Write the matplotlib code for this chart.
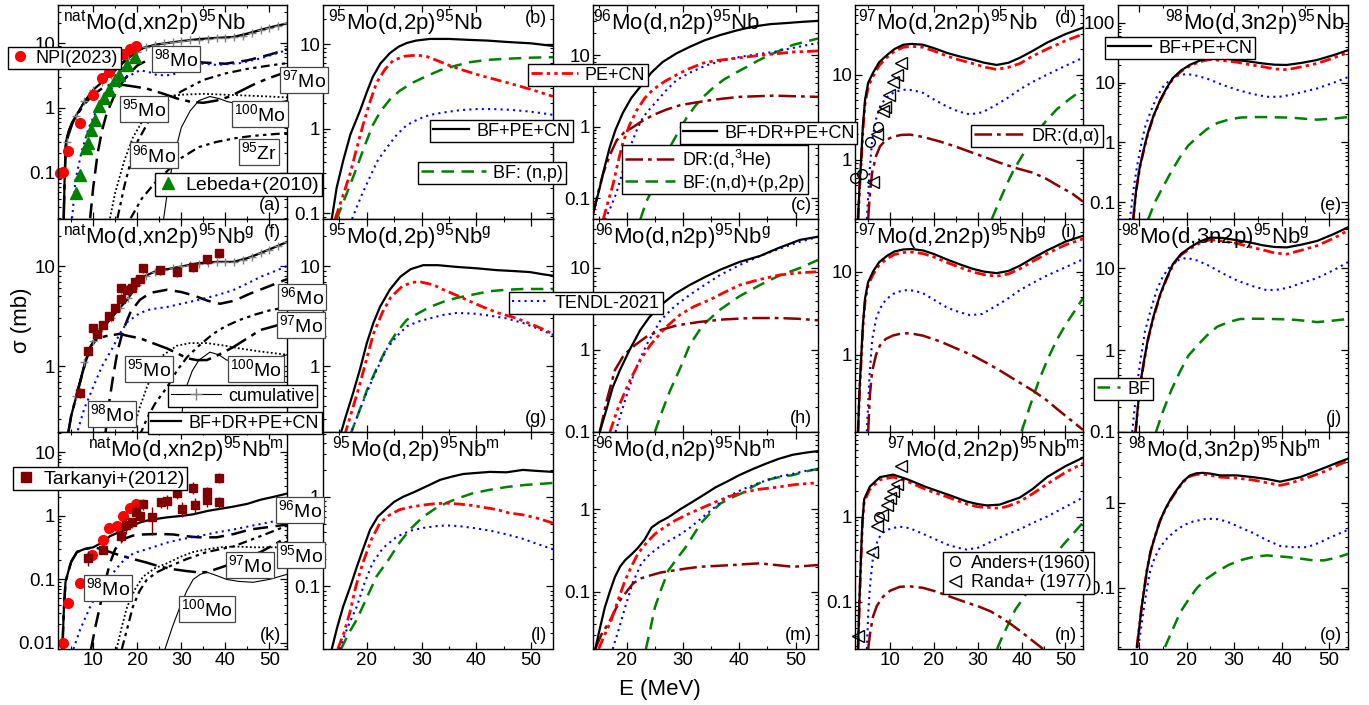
import matplotlib
matplotlib.use('Agg')
import matplotlib.pyplot as plt
from matplotlib.lines import Line2D
from matplotlib.ticker import FuncFormatter, MultipleLocator, LogLocator, NullFormatter

plt.rcParams['font.family'] = ['Liberation Sans', 'DejaVu Sans']
plt.rcParams['mathtext.fontset'] = 'custom'
plt.rcParams['mathtext.rm'] = 'Liberation Sans'
plt.rcParams['mathtext.it'] = 'Liberation Sans:italic'
plt.rcParams['mathtext.default'] = 'regular'

# ---------------- data (E in MeV, sigma in mb) ----------------
# (a) natMo(d,xn2p)95Nb
a_tot = ([3.3, 3.5, 3.8, 4.5, 5.2, 6.3, 8, 10, 12, 13.8, 16, 17.7, 19.5, 21.3, 24, 26.8, 30, 34, 38, 41.8, 45, 48, 51, 54],
         [0.02, 0.08, 0.3, 0.45, 0.6, 0.8, 1.25, 1.9, 2.5, 3.2, 4.5, 5.9, 7.3, 8.4, 9.4, 10, 10.7, 11.5, 12, 12.4, 14, 16, 18, 20])
a_cum = ([4, 6, 8, 10, 12, 14, 16, 18, 20, 22, 24, 26, 28, 30, 32, 34, 36, 38, 40, 42, 44, 46, 48, 50, 52, 54],
         [0.3, 0.75, 1.3, 1.9, 2.5, 3.2, 4.3, 5.7, 7.3, 8.6, 9.4, 9.9, 10.3, 10.7, 11.0, 11.3, 11.6, 11.8, 12.0, 12.3, 13.0, 14.2, 15.6, 17.0, 18.5, 20])
a_tendl = ([5.2, 6, 7.4, 9, 10.8, 12.5, 13.8, 16, 17.7, 20.6, 22.5, 24.5, 27, 29, 31, 32.7, 35, 38, 43.3, 48, 54],
           [0.02, 0.08, 0.22, 0.5, 0.93, 1.5, 1.9, 2.6, 3, 3.8, 3.6, 3.2, 3.2, 3.4, 4.2, 4.9, 4.8, 4.6, 4.9, 5.8, 7.8])
a_98 = ([9.3, 10, 11, 12, 13, 14.5, 16, 18, 20, 22, 25, 30, 35, 40, 45, 50, 54],
        [0.02, 0.06, 0.2, 0.45, 0.8, 1.4, 2.2, 3.3, 4.5, 5.3, 6, 5.6, 5, 4.8, 5.4, 6.6, 8])
a_97 = ([3.3, 3.5, 3.8, 4.5, 5.2, 6.3, 8, 10, 12, 14, 16, 19, 22, 26, 29, 32, 35, 38, 41, 44, 47, 50, 54],
        [0.02, 0.08, 0.3, 0.45, 0.58, 0.78, 1.15, 1.6, 2.0, 2.3, 2.3, 2.15, 2.0, 1.65, 1.4, 1.25, 1.2, 1.3, 1.5, 1.9, 2.4, 2.9, 3.6])
a_96 = ([15.5, 17, 18.5, 20, 23, 27, 30, 35, 40, 45, 50, 54],
        [0.02, 0.06, 0.15, 0.3, 0.7, 1.3, 1.8, 2.7, 3.4, 4.0, 4.5, 4.9])
a_95 = ([13.8, 15, 17, 19, 21, 23, 25, 28, 30, 35, 40, 45, 50, 54],
        [0.02, 0.05, 0.15, 0.35, 0.6, 0.95, 1.3, 1.55, 1.6, 1.65, 1.6, 1.55, 1.5, 1.45])
a_100 = ([26, 27, 28.5, 30, 32, 34, 36.5, 38.5, 40.5, 43, 46, 50, 54],
         [0.02, 0.06, 0.2, 0.5, 0.9, 1.3, 1.5, 1.4, 1.25, 1.15, 1.1, 1.15, 1.3])
a_95zr = ([18.5, 21, 24, 27, 30, 34, 38, 42, 46, 50, 54],
          [0.02, 0.04, 0.07, 0.11, 0.17, 0.25, 0.3, 0.34, 0.37, 0.39, 0.41])
a_npi = ([2.5, 3.1, 4.3, 7, 10, 12, 13.6, 15.2, 16.8, 18.4, 19.7],
         [0.1, 0.105, 0.22, 0.59, 1.6, 2.9, 3.6, 6.1, 6.8, 8.1, 9.0])
a_lebeda = ([6.1, 7, 8.4, 8.8, 9.5, 10.4, 11.3, 12.5, 13.6, 15, 15.9, 17.7, 19.5],
            [0.049, 0.093, 0.24, 0.29, 0.46, 0.65, 1.07, 1.4, 1.9, 2.7, 3.2, 4.6, 6.1])

# (f) natMo(d,xn2p)95Nb g
f_tot = ([4.2, 5, 6.5, 8, 9.3, 11, 13.8, 16, 17.7, 19.5, 21.3, 24, 26.8, 30, 34, 38, 41.8, 45, 48, 51, 54],
         [0.2, 0.32, 0.57, 1.0, 1.55, 2.1, 2.9, 3.8, 4.6, 6.0, 7.8, 8.8, 9.3, 9.9, 10.7, 11, 11, 12, 13.5, 15.3, 17.4])
f_cum = ([6, 8, 10, 12, 14, 16, 18, 20, 22, 24, 26, 28, 30, 32, 34, 36, 38, 40, 42, 44, 46, 48, 50, 52, 54],
         [0.5, 1.1, 1.8, 2.4, 3.0, 3.8, 4.8, 6.5, 8.0, 8.8, 9.2, 9.5, 9.9, 10.3, 10.6, 10.8, 10.9, 11.0, 11.1, 11.5, 12.3, 13.4, 14.6, 16, 17.4])
f_tendl = ([6.1, 8, 10, 12, 14.5, 16, 17.7, 20.6, 23, 26.8, 30, 34, 38, 41.8, 45, 48, 51, 54],
           [0.2, 0.38, 0.62, 1.0, 1.55, 2.1, 2.75, 3.4, 3.7, 3.9, 4.2, 4.6, 5.1, 5.75, 6.7, 7.8, 8.8, 10])
f_98 = ([12.7, 13.5, 14.5, 15.5, 16.8, 18.5, 20.6, 23, 26.8, 30, 32.7, 36, 38.8, 42, 45.6, 50, 54],
        [0.2, 0.4, 0.78, 1.4, 2.3, 3.5, 4.6, 5.4, 5.8, 5.5, 5.1, 4.5, 4.2, 4.5, 5.3, 6.3, 7.4])
f_97 = ([4.2, 5, 6.5, 8, 9.3, 11, 13, 16, 18, 20.6, 23.5, 26.8, 29, 31.3, 33.5, 35.8, 38.5, 41.8, 45, 48, 51, 54],
        [0.2, 0.32, 0.57, 1.0, 1.55, 1.9, 2.0, 2.1, 2.0, 1.9, 1.7, 1.5, 1.35, 1.2, 1.15, 1.15, 1.3, 1.55, 1.9, 2.3, 2.5, 2.75])
f_96 = ([20.5, 22.2, 24, 26.8, 29, 31.3, 34, 37.2, 40, 43.3, 47, 50, 54],
        [0.2, 0.3, 0.42, 0.62, 0.9, 1.23, 1.6, 2.1, 2.5, 2.9, 3.3, 3.6, 3.9])
f_95 = ([18.7, 20.5, 22.2, 25.2, 29, 32, 35.8, 40, 43.3, 48, 54],
        [0.2, 0.38, 0.62, 1.23, 1.6, 1.7, 1.7, 1.6, 1.5, 1.4, 1.3])
f_100 = ([29.5, 30.5, 31.3, 32.5, 34, 36.5, 38.5, 40.3, 43, 46, 50, 54],
         [0.2, 0.45, 0.65, 0.9, 1.15, 1.38, 1.3, 1.15, 1.1, 1.07, 1.15, 1.3])
f_tark = ([7, 8.8, 10, 10.8, 12.3, 13.6, 15, 16.3, 16.3, 17.7, 18.8, 19.5, 20.6, 21.3, 25.2, 29, 32.7, 35.9, 38.6],
          [0.54, 1.41, 2.4, 2.1, 2.6, 3.2, 3.8, 6.0, 4.7, 5.8, 6.1, 7.0, 7.4, 9.5, 9.1, 8.7, 9.8, 11.7, 13.5])
f_tark_err = [0.06, 0.15, 0.25, 0.2, 0.25, 0.3, 0.4, 0.6, 0.5, 0.6, 0.6, 0.7, 0.7, 1.0, 0.9, 0.9, 1.0, 1.2, 1.4]

# (k) natMo(d,xn2p)95Nb m
k_tot = ([3.0, 3.3, 3.7, 4.3, 5, 6.3, 8, 10, 12, 13.8, 16, 17.7, 19, 20.6, 23, 26.8, 30, 32.7, 36, 39, 41.8, 45, 48, 51, 54],
         [0.008, 0.03, 0.09, 0.13, 0.19, 0.27, 0.3, 0.32, 0.38, 0.48, 0.56, 0.61, 0.7, 0.79, 0.87, 0.95, 1.0, 1.06, 1.2, 1.3, 1.4, 1.55, 1.8, 2.0, 2.25])
k_tendl = ([5.5, 7, 9.3, 11.5, 13.8, 16, 17.7, 20, 22.2, 26.8, 30, 34, 38, 41.8, 46, 51],
           [0.008, 0.016, 0.037, 0.07, 0.11, 0.17, 0.23, 0.27, 0.3, 0.38, 0.43, 0.48, 0.55, 0.61, 0.7, 0.82])
k_98 = ([9.5, 10.5, 11.5, 12.5, 13.8, 15, 16.8, 19, 21.3, 25, 28.2, 31, 34, 38, 42, 45.6, 50, 54],
        [0.008, 0.018, 0.037, 0.08, 0.18, 0.3, 0.43, 0.49, 0.51, 0.52, 0.51, 0.48, 0.46, 0.46, 0.52, 0.61, 0.67, 0.73])
k_97 = ([3.0, 3.3, 3.7, 4.3, 5, 6.3, 8, 10, 12, 13.8, 16, 19, 22, 25, 28, 31.3, 33.5, 35.8, 38.5, 41.8, 45, 48, 51, 54],
        [0.008, 0.03, 0.09, 0.13, 0.19, 0.27, 0.3, 0.32, 0.3, 0.27, 0.24, 0.21, 0.185, 0.16, 0.145, 0.135, 0.13, 0.13, 0.15, 0.18, 0.22, 0.27, 0.35, 0.46])
k_96 = ([16.5, 18, 19, 20.5, 22.2, 24.5, 26.8, 29, 31.3, 35.8, 41.8, 48, 51, 54],
        [0.008, 0.02, 0.037, 0.065, 0.1, 0.13, 0.155, 0.18, 0.21, 0.27, 0.33, 0.48, 0.58, 0.7])
k_95 = ([15.3, 16.5, 17.7, 19.5, 21.3, 24, 26.8, 30, 32.7, 36, 38.8, 42, 46.6, 50, 54],
        [0.008, 0.018, 0.037, 0.07, 0.11, 0.15, 0.18, 0.23, 0.27, 0.3, 0.32, 0.33, 0.32, 0.32, 0.32])
k_100 = ([26.3, 28, 29.7, 31.2, 32.7, 34.3, 35.8, 38, 40.3, 43, 46.3, 50, 54],
         [0.008, 0.018, 0.037, 0.065, 0.1, 0.12, 0.13, 0.115, 0.1, 0.093, 0.09, 0.1, 0.12])
k_npi = ([3.2, 4.3, 7, 9.7, 12.2, 13.6, 15.4, 16.8, 18.4, 19.7],
         [0.01, 0.043, 0.087, 0.24, 0.41, 0.64, 0.69, 0.99, 1.31, 1.52])
k_tark = ([8.8, 12.2, 16.3, 17.5, 18.8, 19.7, 20.6, 21.3, 23.4, 25.4, 26.8, 29, 30.2, 32.7, 33.1, 35.8, 35.8, 38.6, 38.6],
          [0.22, 0.29, 0.48, 0.71, 0.79, 1.17, 0.99, 1.52, 0.95, 1.64, 1.7, 2.3, 1.3, 2.8, 1.5, 2.4, 1.8, 4.0, 1.65])
k_tark_err = [0.06, 0.04, 0.1, 0.2, 0.15, 0.3, 0.2, 0.3, 0.45, 0.3, 0.4, 0.45, 0.35, 0.6, 0.4, 0.5, 0.4, 0.7, 0.35]
tark_dE = 0.5

# (b) 95Mo(d,2p)95Nb
b_tot = ([13.6, 14.5, 15.7, 17, 18.8, 20, 21.1, 22.5, 24.2, 25.8, 27.3, 29, 31.5, 35, 38.8, 42, 45.5, 50, 54],
         [0.085, 0.2, 0.42, 0.85, 1.65, 2.7, 4.1, 5.9, 7.8, 9.3, 10.3, 11, 11.5, 11.5, 11.2, 11, 10.6, 10.2, 9.5])
b_pe = ([14.2, 15.5, 17, 18.2, 19.3, 20.5, 21.8, 23.3, 24.8, 27, 29.2, 31, 32.8, 35, 37.6, 41, 45.6, 50, 54],
        [0.085, 0.15, 0.3, 0.6, 1.1, 2.0, 3.5, 5.0, 6.4, 7.2, 7.4, 7.1, 6.4, 5.6, 4.9, 4.2, 3.5, 2.9, 2.4])
b_bf = ([14.5, 16, 18.2, 19.5, 21.1, 22.5, 24.2, 26, 28.4, 31, 33.4, 36, 38.8, 42, 45.6, 50, 54],
        [0.085, 0.15, 0.35, 0.6, 1.1, 1.6, 2.2, 2.8, 3.5, 4.2, 4.9, 5.5, 6.1, 6.5, 6.7, 6.9, 7.0])
b_tendl = ([17.3, 19, 20.6, 22, 23.7, 25.5, 27.3, 29.5, 31.5, 34, 37, 40, 43, 46, 49.3, 52, 54],
           [0.085, 0.16, 0.27, 0.42, 0.6, 0.85, 1.1, 1.3, 1.45, 1.55, 1.65, 1.7, 1.7, 1.67, 1.6, 1.52, 1.45])

# (c) 96Mo(d,n2p)95Nb
c_tot = ([14, 15.2, 16, 17, 18, 19.3, 20.8, 22.4, 24.4, 26.4, 28.8, 31.2, 33.8, 36.6, 39.5, 42.5, 45.5, 48.5, 51, 54],
         [0.06, 0.14, 0.26, 0.52, 0.9, 1.55, 2.5, 3.6, 5.7, 8, 10.5, 13, 16, 19, 22, 25, 27, 28, 29, 30])
c_pe = ([15.8, 16.7, 17.6, 18.5, 19.3, 20.5, 21.8, 23.2, 24.7, 26.8, 28.9, 31.2, 33.6, 36, 38.4, 41.3, 44.2, 47, 49.5, 52, 54],
        [0.05, 0.09, 0.16, 0.33, 0.59, 1.05, 1.7, 2.5, 3.3, 4.3, 5.3, 6.5, 7.7, 8.4, 8.8, 9.4, 10, 10.5, 11, 11.2, 11.4])
c_tendl = ([16.1, 17, 18.2, 19.5, 20.6, 21.8, 22.9, 24.2, 25.4, 27, 28.9, 31.5, 34.2, 37, 40.1, 43, 46, 49, 51.5, 54],
           [0.05, 0.07, 0.12, 0.27, 0.52, 0.9, 1.35, 1.8, 2.3, 3.2, 4.5, 5.8, 7.2, 8.3, 9.4, 10.2, 11, 12.3, 13.5, 14.7])
c_dr = ([14, 14.8, 15.8, 17, 18.2, 19.5, 21.1, 22.8, 24.7, 27, 29.5, 32, 34.3, 37, 40.1, 43, 46, 50, 54],
        [0.06, 0.11, 0.22, 0.4, 0.64, 0.82, 0.98, 1.2, 1.45, 1.72, 1.99, 2.15, 2.3, 2.45, 2.6, 2.65, 2.7, 2.65, 2.6])
c_bf = ([22.4, 23.5, 24.7, 26.2, 27.7, 29.2, 30.7, 32.2, 33.6, 35.4, 37.2, 39.3, 41.3, 43.4, 45.4, 47.5, 49.5, 52, 54],
        [0.05, 0.09, 0.14, 0.28, 0.52, 0.85, 1.35, 1.95, 2.6, 3.5, 4.5, 5.6, 6.8, 8.4, 10, 11.8, 13.8, 15.5, 17])

# (d) 97Mo(d,2n2p)95Nb
d_e = [2.7, 3.0, 3.4, 3.8, 4.3, 5, 6.1, 7.5, 9.3, 11, 13, 15, 17.5, 20, 23, 26, 28.9, 31.5, 34.3, 37, 39.6, 42.5, 45.8, 50, 54]
d_tot = [0.2, 0.45, 1.0, 2.5, 5.1, 8, 10.5, 14, 17, 20, 22.5, 23, 22.5, 20.5, 18, 16.3, 15, 13.8, 13, 13.8, 15.8, 19, 23.8, 30, 35.7]
d_pe = [0.2, 0.4, 0.9, 2.2, 4.5, 7.2, 9.5, 12.8, 16, 18.8, 21, 21.5, 21, 19, 16.5, 14.8, 13.5, 12.3, 11.5, 12.2, 13.5, 16.5, 20, 25, 30]
d_tendl = ([4.7, 5.3, 5.9, 6.8, 7.7, 9, 10.7, 12.2, 13.8, 15.5, 17.5, 20, 23, 25.5, 28.2, 31, 33.5, 36.5, 39.6, 42.5, 45.8, 50, 54],
           [0.2, 0.7, 1.7, 3.0, 4.2, 5.3, 6.1, 6.5, 6.7, 6.5, 6.1, 5.1, 4.2, 3.7, 3.4, 3.6, 4.2, 5.2, 6.7, 8.2, 10, 12.7, 15.8])
d_dr = ([5, 5.4, 5.9, 6.8, 7.7, 9, 10.7, 12.5, 14.5, 17.5, 21.4, 25, 28.9, 32, 35, 38.5, 42.6, 45.5, 48.7, 51.5, 54],
        [0.2, 0.4, 0.7, 1.1, 1.43, 1.7, 1.86, 1.95, 1.97, 1.85, 1.63, 1.42, 1.2, 1.05, 0.92, 0.8, 0.7, 0.6, 0.48, 0.4, 0.32])
d_bf = ([33.2, 35, 36.6, 38, 39.6, 41.5, 43.5, 45.7, 48, 51, 54],
        [0.2, 0.33, 0.51, 0.72, 1.0, 1.45, 2.1, 2.9, 3.9, 5.2, 6.7])
d_anders = ([2.0, 3.6, 5.4, 7.2], [0.61, 0.67, 1.6, 2.4])
d_randa = ([6.1, 7, 8.4, 8.8, 9.8, 10.7, 11.6, 12.6], [0.55, 2.0, 3.7, 4.2, 5.8, 8.3, 10, 13.8])

# (e) 98Mo(d,3n2p)95Nb
e_e = [8.7, 9.3, 10.1, 11, 11.8, 13, 14.4, 15.7, 17.1, 18.8, 20.7, 22.8, 24.9, 27.5, 30.6, 33.3, 36, 38.5, 41.1, 44.3, 47.5, 51, 54]
e_tot = [0.05, 0.15, 0.39, 0.8, 1.43, 2.8, 5.1, 8, 12, 16, 20, 23.5, 25.9, 25.5, 24, 22.5, 21, 20, 19.8, 21.5, 24, 29, 35]
e_pe = [0.05, 0.15, 0.38, 0.78, 1.4, 2.75, 5, 7.8, 11.7, 15.5, 19.3, 22.5, 24.5, 23.5, 22, 20, 18.5, 17, 16.5, 18.5, 21, 26, 32]
e_tendl = ([8, 8.7, 9.5, 10.3, 11.2, 12.4, 13.7, 15, 16.5, 18.2, 20, 22.3, 24.9, 27.5, 30.6, 33.7, 36.9, 39.5, 41.8, 44.5, 47.5, 51, 54],
           [0.05, 0.15, 0.39, 0.85, 1.8, 3.3, 5.8, 8.5, 11.2, 13.2, 14, 13, 11.2, 9.2, 7.6, 6.5, 5.8, 5.8, 6.2, 7, 8, 10, 12.4])
e_bf = ([11.8, 13.3, 15, 16.8, 18.6, 20.3, 22.1, 24.2, 26.4, 28.8, 31.2, 34, 36.9, 39.5, 41.8, 44.5, 47.5, 51, 54],
        [0.05, 0.1, 0.18, 0.33, 0.57, 0.88, 1.2, 1.65, 2.1, 2.4, 2.6, 2.65, 2.65, 2.62, 2.6, 2.5, 2.4, 2.5, 2.65])

# (g) 95Mo(d,2p)95Nb g
g_tot = ([15.1, 16.2, 17.5, 18.8, 20, 21.2, 22.4, 24.2, 26.1, 28, 30.3, 33, 36.4, 40, 43.7, 47, 49.8, 52, 54],
         [0.2, 0.32, 0.54, 0.95, 1.7, 2.7, 3.9, 5.8, 7.8, 9.3, 10.2, 10.2, 9.8, 9.5, 9.1, 8.9, 8.7, 8.3, 8.0])
g_pe = ([15.9, 17.3, 18.8, 20, 21.2, 22.8, 24.4, 26.5, 28.4, 30, 32.1, 34, 36.4, 39, 41.2, 44, 47.4, 51, 54],
        [0.2, 0.36, 0.68, 1.2, 2.1, 3.4, 4.9, 6.3, 6.9, 6.9, 6.5, 5.8, 5.1, 4.4, 3.9, 3.4, 3.0, 2.5, 2.1])
g_bf = ([16.9, 18.4, 20, 21.8, 23.7, 25.5, 27.3, 29.5, 31.5, 34, 36.4, 39.5, 42.4, 45.5, 48.5, 51, 54],
        [0.2, 0.33, 0.57, 0.95, 1.55, 2.2, 2.9, 3.4, 3.9, 4.4, 4.8, 5.2, 5.6, 5.8, 5.9, 5.9, 5.9])
g_tendl = ([16.9, 18.4, 20, 21.8, 23.7, 25.5, 27.3, 29.5, 31.5, 34, 36.4, 39.5, 42.4, 45.5, 48.5, 51, 54],
           [0.2, 0.33, 0.55, 0.92, 1.5, 2.0, 2.5, 2.8, 3.0, 3.25, 3.4, 3.35, 3.2, 3.0, 2.7, 2.4, 2.05])

# (h) 96Mo(d,n2p)95Nb g
h_tot = ([15.2, 16.5, 17.5, 18.8, 20.5, 22.4, 24, 26, 28.5, 31.2, 34, 36.6, 40, 43.7, 47, 50.8, 54],
         [0.1, 0.2, 0.35, 0.57, 1.0, 1.75, 2.5, 3.5, 4.8, 6.2, 7.8, 9.5, 11.8, 14, 17.5, 22, 24])
h_pe = ([17, 18.5, 20.6, 22.4, 24.2, 26.8, 29.5, 32, 34.8, 37.5, 40.1, 43.5, 47.2, 50.5, 54],
        [0.1, 0.2, 0.43, 0.75, 1.15, 1.85, 2.7, 3.4, 4.1, 5.1, 6.2, 7.2, 8.2, 8.7, 9.0])
h_tendl = ([18, 19.5, 21.5, 23.5, 26, 28.5, 31.2, 34, 36.6, 40, 43.7, 47, 50.5, 54],
           [0.1, 0.22, 0.57, 1.15, 2.3, 3.4, 4.7, 6.3, 8.2, 10.8, 14, 17, 20.5, 24])
h_dr = ([15.2, 16.5, 17.9, 19.5, 21.5, 23.5, 26, 29, 33, 37, 42, 47, 50.5, 54],
        [0.1, 0.25, 0.57, 0.87, 1.15, 1.45, 1.75, 2.0, 2.2, 2.35, 2.45, 2.45, 2.4, 2.3])
h_bf = ([25, 26.3, 27.7, 29.5, 31.2, 33.5, 36.6, 40, 43.7, 47, 50.8, 54],
        [0.1, 0.18, 0.32, 0.6, 1.15, 2.0, 3.1, 4.5, 6.2, 8.0, 10, 12.5])

# (i) 97Mo(d,2n2p)95Nb g
i_e = [2.7, 3.0, 3.4, 3.8, 4.3, 5, 6.1, 7.5, 9.3, 11, 13, 15, 17.5, 20, 23, 26, 28.9, 31.5, 34.3, 37, 39.6, 42.5, 45.8, 50, 54]
i_tot = [0.12, 0.35, 0.9, 2.3, 4.8, 7.5, 10, 13, 15.5, 17.5, 18.5, 18.7, 18, 16.3, 14, 12.2, 10.8, 10, 9.6, 10.2, 11.8, 14.5, 18, 23, 27]
i_pe = [0.12, 0.32, 0.82, 2.1, 4.4, 6.9, 9.2, 12, 14.3, 16.1, 17, 17.2, 16.5, 15, 12.9, 11.2, 9.9, 9.2, 8.8, 9.4, 10.8, 13.3, 16.5, 21, 24.8]
i_tendl = ([4.7, 5.3, 5.9, 6.8, 7.7, 9, 10.7, 12.2, 13.8, 15.5, 17.5, 20, 23, 25.5, 28.2, 31, 33.5, 36.5, 39.6, 42.5, 45.8, 50, 54],
           [0.12, 0.55, 1.5, 2.7, 3.6, 4.6, 5.4, 5.8, 6.0, 5.9, 5.5, 4.6, 3.7, 3.3, 3.0, 3.1, 3.7, 4.6, 6.0, 7.3, 9.0, 11.3, 14.1])
i_dr = ([5, 5.4, 5.9, 6.8, 7.7, 9, 10.7, 12.5, 14.5, 17.5, 21.4, 25, 28.9, 32, 35, 38.5, 42.6, 45.5, 48.7, 51.5, 54],
        [0.12, 0.33, 0.63, 1.0, 1.3, 1.55, 1.71, 1.8, 1.82, 1.7, 1.45, 1.2, 0.98, 0.8, 0.65, 0.5, 0.37, 0.29, 0.21, 0.16, 0.125])
i_bf = ([40, 42, 44, 46, 48, 50, 52, 54], [0.12, 0.25, 0.5, 0.9, 1.5, 2.3, 3.3, 4.8])

# (j) 98Mo(d,3n2p)95Nb g
j_e = [9.2, 10.1, 11, 11.8, 13, 14.4, 15.7, 17.1, 18.8, 20.7, 22.8, 24.9, 27.5, 30.6, 33.3, 36, 38.5, 41.1, 44.3, 47.5, 51, 54]
j_tot = [0.1, 0.36, 0.75, 1.35, 2.6, 4.8, 7.5, 11.3, 15, 18, 21.3, 23.7, 23.5, 22, 20.7, 19.1, 18.2, 18, 19.5, 21.6, 26.2, 31.7]
j_pe = [0.1, 0.35, 0.73, 1.32, 2.55, 4.7, 7.3, 11, 14.6, 17.4, 20.4, 22.3, 21.5, 20.1, 18.3, 16.8, 15.4, 14.9, 16.7, 18.9, 23.3, 28.9]
j_tendl = ([8.5, 9.5, 10.3, 11.2, 12.4, 13.7, 15, 16.5, 18.2, 20, 22.3, 24.9, 27.5, 30.6, 33.7, 36.9, 39.5, 41.8, 44.5, 47.5, 51, 54],
           [0.1, 0.37, 0.8, 1.7, 3.1, 5.5, 8.0, 10.6, 12.6, 13.4, 12.4, 10.6, 8.7, 7.1, 6.1, 5.4, 5.5, 5.9, 6.7, 7.6, 9.5, 11.9])
j_bf = ([13.5, 15, 16.8, 18.6, 20.3, 22.1, 24.2, 26.4, 28.8, 31.2, 34, 36.9, 39.5, 41.8, 44.5, 47.5, 51, 54],
        [0.1, 0.18, 0.33, 0.55, 0.85, 1.12, 1.5, 1.93, 2.2, 2.4, 2.42, 2.41, 2.39, 2.37, 2.3, 2.2, 2.3, 2.4])

# (l) 95Mo(d,2p)95Nb m
l_tot = ([13.6, 14.6, 15.7, 17, 18.2, 19.4, 20.6, 22, 23.7, 25, 26.6, 28.5, 30.3, 33.4, 35.5, 37.6, 40, 42.5, 45.5, 48.5, 51, 54],
         [0.02, 0.035, 0.06, 0.1, 0.167, 0.27, 0.43, 0.6, 0.75, 0.88, 1.0, 1.12, 1.26, 1.55, 1.68, 1.8, 1.85, 1.9, 1.88, 2.0, 1.95, 1.9])
l_pe = ([14.7, 15.8, 16.9, 18, 19.3, 20.8, 22.4, 24, 26, 28, 30.3, 32.5, 34.6, 37, 39.4, 41.5, 43.8, 46, 48.5, 51, 54],
        [0.02, 0.03, 0.051, 0.1, 0.185, 0.33, 0.51, 0.62, 0.72, 0.77, 0.81, 0.84, 0.85, 0.83, 0.8, 0.76, 0.72, 0.66, 0.63, 0.58, 0.51])
l_tendl = ([15, 16.5, 18.2, 19.6, 21.1, 23, 25.5, 28, 30.3, 32.5, 34.6, 37, 39.4, 42.5, 45.6, 48.5, 51, 54],
           [0.02, 0.035, 0.06, 0.11, 0.185, 0.27, 0.36, 0.42, 0.45, 0.47, 0.48, 0.47, 0.45, 0.42, 0.38, 0.34, 0.3, 0.26])
l_bf = ([15.3, 16.7, 18.2, 20, 21.8, 24, 26, 28, 30.3, 32.5, 34.6, 37, 39.4, 42.5, 45.6, 49, 54],
        [0.02, 0.03, 0.043, 0.075, 0.13, 0.2, 0.31, 0.44, 0.6, 0.74, 0.86, 0.98, 1.1, 1.2, 1.29, 1.36, 1.43])

# (m) 96Mo(d,n2p)95Nb m
m_tot = ([14.4, 15.2, 16.1, 17, 17.9, 18.8, 19.7, 21, 22, 23.2, 24.4, 25.8, 27.4, 29.5, 31.6, 33.7, 35.8, 38, 40, 42.5, 44.8, 47, 49.5, 52, 54],
         [0.02, 0.035, 0.064, 0.1, 0.15, 0.2, 0.24, 0.29, 0.34, 0.43, 0.6, 0.7, 0.8, 1.0, 1.22, 1.5, 1.85, 2.2, 2.6, 3.1, 3.6, 4.1, 4.6, 4.9, 5.1])
m_pe = ([15, 16.1, 17.2, 18.5, 19.7, 20.8, 22, 23.5, 25, 26.8, 28.6, 30.7, 32.8, 34.6, 36.4, 38.5, 40.6, 43.5, 46.6, 50, 54],
        [0.02, 0.03, 0.044, 0.08, 0.136, 0.2, 0.29, 0.39, 0.5, 0.61, 0.73, 0.86, 1.0, 1.13, 1.28, 1.45, 1.6, 1.75, 1.85, 2.0, 2.1])
m_tendl = ([17.5, 18.6, 19.7, 21.1, 22.6, 24, 25.6, 27.4, 29.2, 31, 32.8, 35.2, 37.7, 40.6, 43.6, 46.5, 49.5, 52, 54],
           [0.02, 0.035, 0.064, 0.13, 0.22, 0.28, 0.34, 0.41, 0.48, 0.58, 0.73, 1.0, 1.4, 1.75, 2.1, 2.45, 2.7, 2.95, 3.1])
m_dr = ([14.4, 15.5, 17, 18.8, 20, 21.1, 22.6, 24.2, 26, 28.3, 30.5, 33, 36, 38.9, 41, 43.6, 46.5, 49.5, 52, 54],
        [0.02, 0.03, 0.044, 0.078, 0.1, 0.125, 0.145, 0.157, 0.17, 0.18, 0.19, 0.2, 0.205, 0.21, 0.215, 0.22, 0.21, 0.2, 0.205, 0.21])
m_bf = ([23.4, 24.2, 25, 26.2, 27.4, 28.9, 30.4, 31.8, 33.2, 35, 36.7, 38.6, 40.5, 42.5, 44.6, 47, 49.5, 52, 54],
        [0.02, 0.035, 0.064, 0.11, 0.18, 0.25, 0.34, 0.48, 0.68, 0.92, 1.18, 1.38, 1.57, 1.9, 2.25, 2.45, 2.6, 2.9, 3.1])

# (n) 97Mo(d,2n2p)95Nb m
n_e = [2.7, 3.0, 3.4, 3.7, 4.1, 5.4, 7.7, 10.7, 13.8, 18.4, 23.7, 27.5, 30, 32.1, 35, 37, 39.6, 42.5, 45.8, 50, 54]
n_tot = [0.028, 0.1, 0.38, 0.9, 1.6, 2.25, 2.9, 3.1, 2.75, 2.2, 1.77, 1.5, 1.4, 1.35, 1.38, 1.5, 1.67, 2.1, 2.9, 3.9, 4.9]
n_pe = [0.028, 0.09, 0.35, 0.85, 1.5, 2.1, 2.7, 2.9, 2.6, 2.05, 1.65, 1.4, 1.3, 1.28, 1.25, 1.33, 1.5, 1.85, 2.4, 3.3, 4.2]
n_tendl = ([4.7, 5.0, 5.4, 6.0, 6.5, 7.3, 8.4, 10, 12.2, 14.5, 16.8, 20, 23, 25.5, 27.5, 30, 32.8, 36, 39.6, 42.5, 45.8, 50, 54],
           [0.028, 0.07, 0.15, 0.3, 0.41, 0.55, 0.65, 0.72, 0.76, 0.73, 0.65, 0.55, 0.47, 0.43, 0.41, 0.43, 0.5, 0.6, 0.71, 0.84, 1.0, 1.3, 1.67])
n_dr = ([5, 5.5, 6.1, 7, 8.4, 10, 12.2, 14.5, 17.5, 20.5, 23.7, 27, 30.5, 33, 35, 37.5, 40.3, 42.5, 44.9],
        [0.028, 0.045, 0.067, 0.09, 0.115, 0.135, 0.15, 0.152, 0.146, 0.132, 0.115, 0.1, 0.087, 0.077, 0.067, 0.055, 0.043, 0.035, 0.028])
n_bf = ([34.4, 35.5, 36.6, 38.5, 41.2, 43.8, 46.5, 50, 54],
        [0.028, 0.038, 0.05, 0.08, 0.127, 0.2, 0.31, 0.5, 0.85])
n_anders = ([7.5], [1.0])
n_randa = ([2.7, 5.9, 7, 8.2, 9.3, 10, 10.7, 11.6, 12.6], [0.04, 0.38, 0.78, 1.05, 1.38, 1.67, 1.97, 2.4, 3.9])

# (o) 98Mo(d,3n2p)95Nb m
o_e = [9.5, 10.5, 11.6, 12.4, 13.3, 14.3, 15.4, 16.6, 17.9, 19.3, 20.7, 22, 23.4, 25, 27, 30.5, 34, 36.9, 39.7, 41.8, 43.9, 46.8, 49.6, 52, 54]
o_tot = [0.02, 0.06, 0.16, 0.27, 0.4, 0.6, 0.83, 1.1, 1.42, 1.8, 2.1, 2.22, 2.25, 2.2, 2.1, 2.1, 2.0, 1.9, 1.77, 1.88, 2.0, 2.3, 2.65, 3.0, 3.3]
o_pe = [0.02, 0.06, 0.16, 0.27, 0.4, 0.6, 0.82, 1.08, 1.4, 1.77, 2.05, 2.15, 2.17, 2.1, 2.0, 1.95, 1.85, 1.72, 1.6, 1.7, 1.85, 2.1, 2.4, 2.8, 3.1]
o_tendl = ([9.8, 10.8, 11.5, 12.3, 13.3, 14.4, 16, 17.9, 19.5, 21.3, 24.3, 26.5, 28.5, 31, 34, 37, 39.7, 42.5, 45.4, 48, 50.2, 52, 54],
           [0.02, 0.05, 0.09, 0.16, 0.23, 0.3, 0.39, 0.48, 0.55, 0.6, 0.65, 0.64, 0.6, 0.52, 0.44, 0.36, 0.31, 0.3, 0.3, 0.34, 0.39, 0.43, 0.48])
o_bf = ([15.4, 17, 18.6, 20.4, 22.2, 24.2, 26.4, 28.8, 31.2, 34, 36.9, 39, 41.1, 44, 46.6, 49, 51.5, 54],
        [0.02, 0.032, 0.051, 0.073, 0.1, 0.128, 0.155, 0.185, 0.21, 0.23, 0.24, 0.235, 0.23, 0.22, 0.21, 0.21, 0.225, 0.25])

# ---------------- layout ----------------
W, H = 1369, 705
fig = plt.figure(figsize=(W / 100, H / 100), dpi=100)

cols = [(58, 287), (323, 553), (593, 818), (855, 1083), (1118, 1348)]
rows = [(5, 219), (219, 432), (432, 649)]
xlims = [(2, 54), (12, 54), (14, 54), (2, 54), (5.5, 54)]
ylims = [[(0.0195, 38.5), (0.085, 29), (0.051, 50), (0.2, 66), (0.052, 200)],
         [(0.22, 29.5), (0.22, 29.5), (0.1, 39.5), (0.118, 43), (0.1, 40)],
         [(0.008, 21), (0.02, 5.3), (0.02, 8.7), (0.028, 9.8), (0.019, 6.8)]]

TOT = dict(color='k', lw=1.6, ls='-')
PE = dict(color='red', lw=2.0, ls=(0, (4, 1.5, 1.2, 1.5, 1.2, 1.5)))
TENDL = dict(color='blue', lw=1.5, ls=(0, (1, 2)))
BF = dict(color='green', lw=1.8, ls=(0, (5, 3)))
DR = dict(color='#8b0000', lw=1.8, ls=(0, (7, 2, 1.5, 2)))
I98 = dict(color='k', lw=1.8, ls=(0, (6, 3)))
I97 = dict(color='k', lw=1.8, ls=(0, (9, 2.5, 2, 2.5)))
I96 = dict(color='k', lw=1.6, ls=(0, (4, 2, 1.5, 2, 1.5, 2)))
I95 = dict(color='k', lw=1.3, ls=(0, (1, 1.3)))
I100 = dict(color='k', lw=0.8, ls='-')
CUM = dict(color='k', lw=0.8, marker='+', ms=6, mec='gray', mew=1.0)

axes = {}
letters = 'abcdefghijklmno'
for r in range(3):
    for c in range(5):
        x0, x1 = cols[c]
        y0, y1 = rows[r]
        ax = fig.add_axes([x0 / W, 1 - y1 / H, (x1 - x0) / W, (y1 - y0) / H])
        ax.set_yscale('log')
        ax.set_xlim(*xlims[c])
        ax.set_ylim(*ylims[r][c])
        ax.xaxis.set_major_locator(MultipleLocator(10))
        ax.xaxis.set_minor_locator(MultipleLocator(5))
        ax.yaxis.set_major_locator(LogLocator(base=10))
        ax.yaxis.set_minor_locator(LogLocator(base=10, subs=range(2, 10)))
        ax.yaxis.set_major_formatter(FuncFormatter(lambda v, p: '%g' % v))
        ax.yaxis.set_minor_formatter(NullFormatter())
        ax.tick_params(which='both', direction='in', top=True, right=True, labelsize=13.5, pad=2)
        ax.tick_params(which='major', length=5, width=0.9)
        ax.tick_params(which='minor', length=2.5, width=0.8)
        if r < 2:
            ax.tick_params(labelbottom=False)
        for s in ax.spines.values():
            s.set_linewidth(1.0)
        axes[letters[r * 5 + c]] = ax


def model(ax, tot=None, pe=None, tendl=None, bf=None, dr=None):
    for cur, st in ((bf, BF), (tendl, TENDL), (dr, DR), (pe, PE), (tot, TOT)):
        if cur is not None:
            ax.plot(cur[0], cur[1], **st)


def title(ax, s, x=0.02, ha='left'):
    ax.text(x, 0.99, s, transform=ax.transAxes, fontsize=16, ha=ha, va='top')


def letter(ax, s, top=False):
    if top:
        ax.text(0.975, 0.975, s, transform=ax.transAxes, fontsize=13, ha='right', va='top')
    else:
        ax.text(0.975, 0.025, s, transform=ax.transAxes, fontsize=13, ha='right', va='bottom')


def box(x, y, s):
    fig.text(x / W, 1 - y / H, s, fontsize=14, ha='left', va='top',
             bbox=dict(boxstyle='square,pad=0.12', fc='white', ec='#444444', lw=0.9))


def leg(handles, labels, x, y, hl=2.4, fs=13):
    lg = fig.legend(handles, labels, loc='upper left', bbox_to_anchor=(x / W, 1 - y / H),
                    frameon=True, fancybox=False, edgecolor='black', framealpha=1,
                    fontsize=fs, borderpad=0.15, handlelength=hl, handletextpad=0.4,
                    borderaxespad=0, labelspacing=0.15)
    lg.get_frame().set_linewidth(1.0)
    return lg


# (a)
ax = axes['a']
ax.plot(*a_95zr, **I96)
ax.plot(*a_100, **I100)
ax.plot(*a_95, **I95)
ax.plot(*a_96, **I96)
ax.plot(*a_97, **I97)
ax.plot(*a_98, **I98)
ax.plot(*a_tendl, **TENDL)
ax.plot(*a_tot, **TOT)
ax.plot(*a_cum, **CUM)
ax.plot(*a_lebeda, ls='none', marker='^', color='green', ms=8)
ax.plot(*a_npi, ls='none', marker='o', color='red', ms=7, clip_on=False)
title(ax, '$^{nat}$Mo(d,xn2p)$^{95}$Nb')
letter(ax, '(a)')

# (f)
ax = axes['f']
ax.plot(*f_100, **I100)
ax.plot(*f_95, **I95)
ax.plot(*f_96, **I96)
ax.plot(*f_97, **I97)
ax.plot(*f_98, **I98)
ax.plot(*f_tendl, **TENDL)
ax.plot(*f_tot, **TOT)
ax.plot(*f_cum, **CUM)
ax.errorbar(f_tark[0], f_tark[1], yerr=f_tark_err, xerr=tark_dE, fmt='s', color='#800000',
            ms=6, elinewidth=1, capsize=0)
title(ax, '$^{nat}$Mo(d,xn2p)$^{95}$Nb$^{g}$')
letter(ax, '(f)', top=True)

# (k)
ax = axes['k']
ax.plot(*k_100, **I100)
ax.plot(*k_95, **I95)
ax.plot(*k_96, **I96)
ax.plot(*k_97, **I97)
ax.plot(*k_98, **I98)
ax.plot(*k_tendl, **TENDL)
ax.plot(*k_tot, **TOT)
ax.plot(*k_npi, ls='none', marker='o', color='red', ms=7, clip_on=False)
ax.errorbar(k_tark[0], k_tark[1], yerr=k_tark_err, xerr=tark_dE, fmt='s', color='#800000',
            ms=6, elinewidth=1, capsize=0)
title(ax, '$^{nat}$Mo(d,xn2p)$^{95}$Nb$^{m}$', x=0.985, ha='right')
letter(ax, '(k)')

# columns 1..4
model(axes['b'], b_tot, b_pe, b_tendl, b_bf)
title(axes['b'], '$^{95}$Mo(d,2p)$^{95}$Nb')
letter(axes['b'], '(b)', top=True)
model(axes['c'], c_tot, c_pe, c_tendl, c_bf, c_dr)
title(axes['c'], '$^{96}$Mo(d,n2p)$^{95}$Nb', x=0.0)
letter(axes['c'], '(c)')
model(axes['d'], (d_e, d_tot), (d_e, d_pe), d_tendl, d_bf, d_dr)
axes['d'].plot(*d_anders, ls='none', marker='o', mfc='none', mec='k', ms=7, clip_on=False)
axes['d'].plot(*d_randa, ls='none', marker='<', mfc='none', mec='k', ms=8)
title(axes['d'], '$^{97}$Mo(d,2n2p)$^{95}$Nb', x=0.015)
letter(axes['d'], '(d)', top=True)
model(axes['e'], (e_e, e_tot), (e_e, e_pe), e_tendl, e_bf)
title(axes['e'], '$^{98}$Mo(d,3n2p)$^{95}$Nb', x=0.985, ha='right')
letter(axes['e'], '(e)')

model(axes['g'], g_tot, g_pe, g_tendl, g_bf)
title(axes['g'], '$^{95}$Mo(d,2p)$^{95}$Nb$^{g}$')
letter(axes['g'], '(g)')
model(axes['h'], h_tot, h_pe, h_tendl, h_bf, h_dr)
title(axes['h'], '$^{96}$Mo(d,n2p)$^{95}$Nb$^{g}$', x=0.01)
letter(axes['h'], '(h)')
model(axes['i'], (i_e, i_tot), (i_e, i_pe), i_tendl, i_bf, i_dr)
title(axes['i'], '$^{97}$Mo(d,2n2p)$^{95}$Nb$^{g}$', x=0.015)
letter(axes['i'], '(i)', top=True)
model(axes['j'], (j_e, j_tot), (j_e, j_pe), j_tendl, j_bf)
title(axes['j'], '$^{98}$Mo(d,3n2p)$^{95}$Nb$^{g}$', x=0.015)
letter(axes['j'], '(j)')

model(axes['l'], l_tot, l_pe, l_tendl, l_bf)
title(axes['l'], '$^{95}$Mo(d,2p)$^{95}$Nb$^{m}$', x=0.04)
letter(axes['l'], '(l)')
model(axes['m'], m_tot, m_pe, m_tendl, m_bf, m_dr)
title(axes['m'], '$^{96}$Mo(d,n2p)$^{95}$Nb$^{m}$', x=0.01)
letter(axes['m'], '(m)')
model(axes['n'], (n_e, n_tot), (n_e, n_pe), n_tendl, n_bf, n_dr)
axes['n'].plot(*n_anders, ls='none', marker='o', mfc='none', mec='k', ms=7)
axes['n'].plot(*n_randa, ls='none', marker='<', mfc='none', mec='k', ms=8, clip_on=False)
title(axes['n'], '$^{97}$Mo(d,2n2p)$^{95}$Nb$^{m}$', x=0.14)
letter(axes['n'], '(n)')
model(axes['o'], (o_e, o_tot), (o_e, o_pe), o_tendl, o_bf)
title(axes['o'], '$^{98}$Mo(d,3n2p)$^{95}$Nb$^{m}$', x=0.045)
letter(axes['o'], '(o)')

# isotope labels
for x, y, s in [(154, 48, '$^{98}$Mo'), (282, 69, '$^{97}$Mo'), (122, 98, '$^{95}$Mo'),
                (234, 103, '$^{100}$Mo'), (132, 144, '$^{96}$Mo'), (241, 141, '$^{95}$Zr'),
                (280, 286, '$^{96}$Mo'), (279, 314, '$^{97}$Mo'), (127, 358, '$^{95}$Mo'),
                (230, 358, '$^{100}$Mo'), (90, 403, '$^{98}$Mo'),
                (278, 499, '$^{96}$Mo'), (279, 544, '$^{95}$Mo'), (228, 554, '$^{97}$Mo'),
                (86, 577, '$^{98}$Mo'), (181, 598, '$^{100}$Mo')]:
    box(x, y, s)

# legends
hd_tot = Line2D([], [], **TOT)
hd_pe = Line2D([], [], **PE)
hd_tendl = Line2D([], [], **TENDL)
hd_bf = Line2D([], [], **BF)
hd_dr = Line2D([], [], **DR)
leg([Line2D([], [], ls='none', marker='o', color='red', ms=7)], ['NPI(2023)'], 8, 47, hl=1.0)
leg([Line2D([], [], ls='none', marker='^', color='green', ms=8)], ['Lebeda+(2010)'], 155, 173, hl=1.0, fs=14)
leg([Line2D([], [], color='k', lw=0.8, marker='+', ms=8, mec='gray')], ['cumulative'], 168, 385, hl=2.8)
leg([hd_tot], ['BF+DR+PE+CN'], 148, 412, hl=1.7)
leg([Line2D([], [], ls='none', marker='s', color='#800000', ms=7)], ['Tarkanyi+(2012)'], 13, 467, hl=1.0, fs=14)
leg([hd_tot], ['BF+PE+CN'], 430, 120, hl=2.0)
leg([hd_bf], ['BF: (n,p)'], 418, 162, hl=3.6)
leg([hd_pe], ['PE+CN'], 528, 64, hl=2.6)
leg([hd_tot], ['BF+DR+PE+CN'], 680, 122, hl=1.9)
leg([hd_dr, hd_bf], ['DR:(d,$^{3}$He)', 'BF:(n,d)+(p,2p)'], 622, 145, hl=2.8)
leg([hd_dr], ['DR:(d,α)'], 971, 125, hl=2.8)
leg([hd_tot], ['BF+PE+CN'], 1105, 37, hl=2.4)
leg([hd_tendl], ['TENDL-2021'], 509, 292, hl=2.0)
leg([hd_bf], ['BF'], 1094, 378, hl=1.3)
leg([Line2D([], [], ls='none', marker='o', mfc='none', mec='k', ms=7),
     Line2D([], [], ls='none', marker='<', mfc='none', mec='k', ms=8)],
    ['Anders+(1960)', 'Randa+ (1977)'], 943, 552, hl=1.0)

fig.text(22 / W, 1 - 320 / H, 'σ (mb)', rotation=90, fontsize=16, ha='center', va='center')
fig.text(660 / W, 1 - 690 / H, 'E (MeV)', fontsize=16, ha='center', va='center')

fig.savefig('out.png', dpi=100)
